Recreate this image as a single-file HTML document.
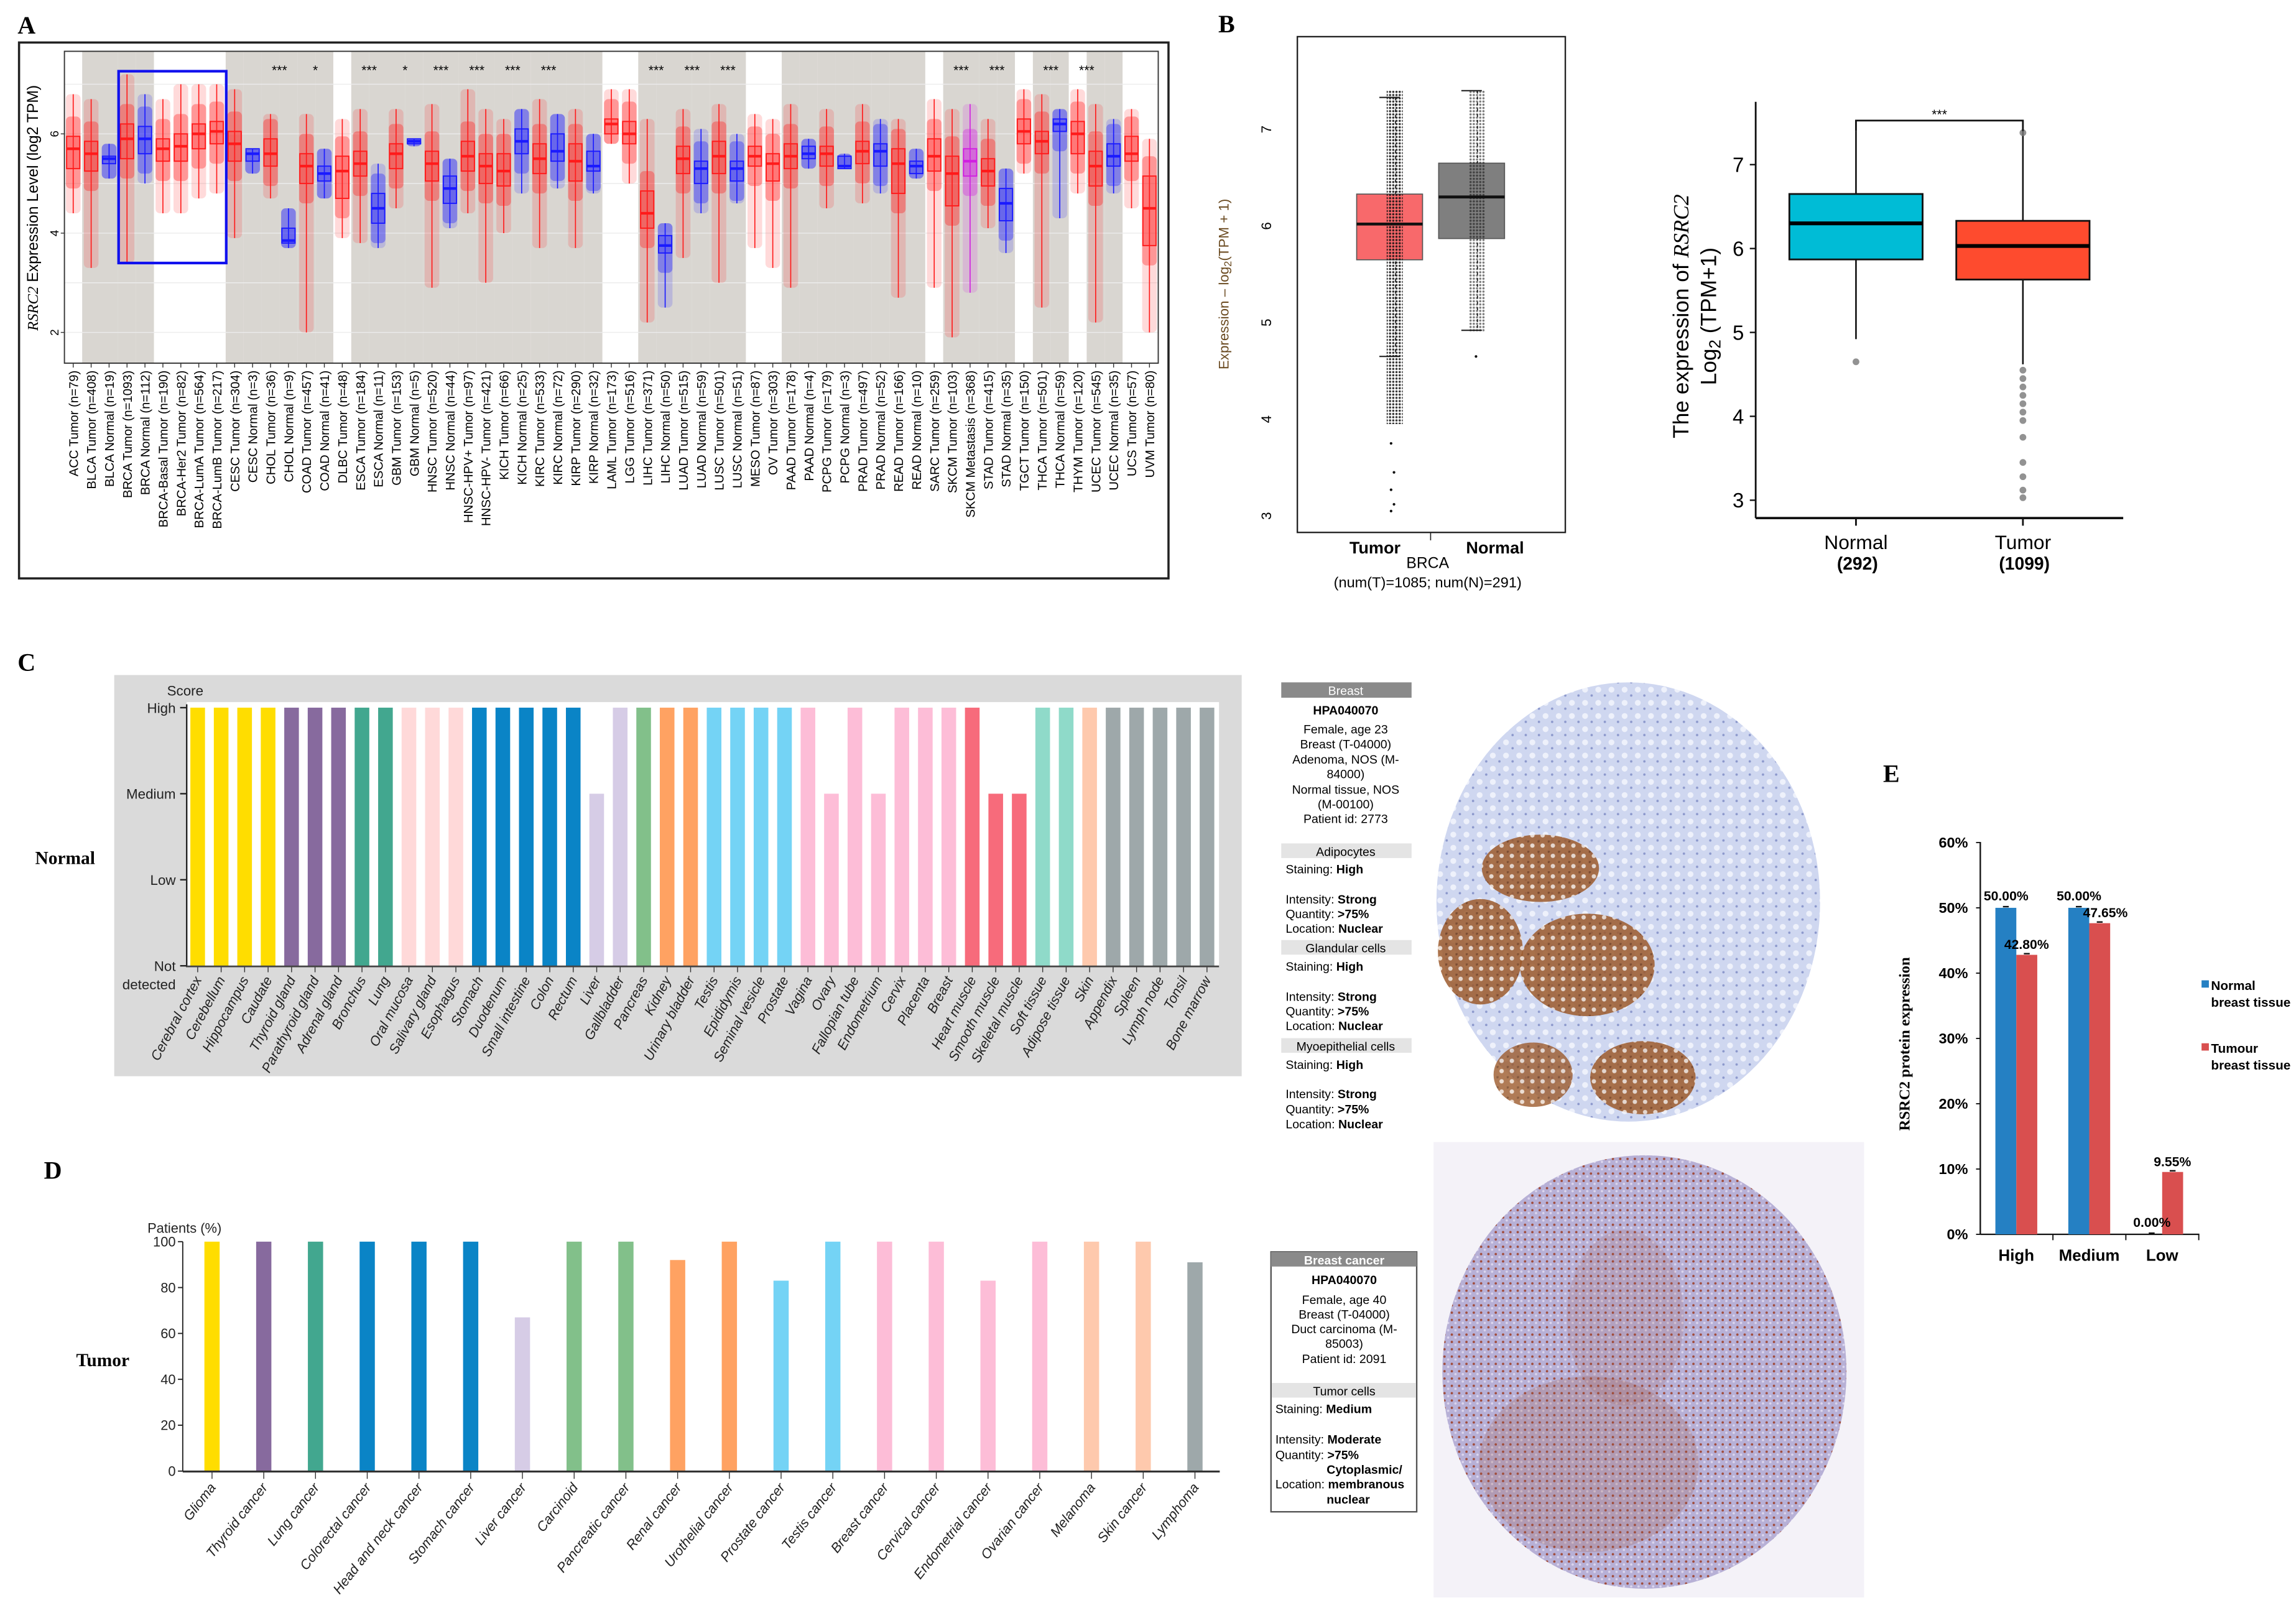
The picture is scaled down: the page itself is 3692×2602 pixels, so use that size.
<!DOCTYPE html>
<html><head><meta charset="utf-8">
<style>
html,body{margin:0;padding:0;background:#fff;}
svg{display:block;}
text{font-family:"Liberation Sans",sans-serif;}
.serif{font-family:"Liberation Serif",serif;}
</style></head>
<body>
<svg id="fig" xmlns="http://www.w3.org/2000/svg" width="3692" height="2602" viewBox="0 0 1568 1105">
<defs>
<pattern id="dotsT" width="2.2" height="2.2" patternUnits="userSpaceOnUse"><circle cx="1.1" cy="1.1" r="0.75" fill="#111"/></pattern>
<pattern id="gland" width="7" height="7" patternUnits="userSpaceOnUse"><rect width="7" height="7" fill="#9c5a2c"/><circle cx="3.5" cy="3.5" r="1.5" fill="#e8d6c8"/><circle cx="0.5" cy="0.5" r="1" fill="#6e3612"/></pattern>
<pattern id="stroma" width="9" height="9" patternUnits="userSpaceOnUse"><rect width="9" height="9" fill="#cfd7f0"/><circle cx="2.5" cy="3" r="2" fill="#eef1fb"/><circle cx="7" cy="7" r="0.8" fill="#8c98cc"/></pattern>
<pattern id="tumor" width="5" height="5" patternUnits="userSpaceOnUse"><rect width="5" height="5" fill="#b7b0d6"/><circle cx="1.5" cy="1.5" r="0.8" fill="#a04c3c"/><circle cx="4" cy="3.5" r="0.8" fill="#dcd6ee"/></pattern>
</defs>

<text x="12" y="23" class="serif" font-size="17" font-weight="bold">A</text>
<rect x="13" y="29" width="785" height="366" fill="none" stroke="#222" stroke-width="1.5"/>
<g id="gA"></g>
<text transform="translate(26,142) rotate(-90)" text-anchor="middle" font-size="10.5"><tspan font-style="italic" font-family="Liberation Serif,serif">RSRC2</tspan> Expression Level (log2 TPM)</text>

<text x="832" y="22" class="serif" font-size="17" font-weight="bold">B</text>
<g id="gB1"></g>
<g id="gB2"></g>
<text transform="translate(839,194) rotate(-90)" text-anchor="middle" font-size="9.5" fill="#6a4a20">Expression – log<tspan font-size="7" dy="2">2</tspan><tspan dy="-2">(TPM + 1)</tspan></text>
<text transform="translate(1153,216) rotate(-90)" text-anchor="middle" font-size="15">The expression of <tspan font-style="italic" font-family="Liberation Serif,serif">RSRC2</tspan></text>
<text transform="translate(1172,216) rotate(-90)" text-anchor="middle" font-size="15">Log<tspan font-size="11" dy="3">2</tspan><tspan dy="-3"> (TPM+1)</tspan></text>

<text x="12" y="458" class="serif" font-size="17" font-weight="bold">C</text>
<rect x="78" y="461" width="770" height="274" fill="#dadada"/>
<text x="24" y="590" class="serif" font-size="12.5" font-weight="bold">Normal</text>
<g id="gC"></g>

<g id="infoN" font-size="8.3" text-anchor="middle">
<rect x="875" y="466" width="89" height="10.5" fill="#8a8a8a"/>
<text x="919" y="474.5" fill="#fff">Breast</text>
<text x="919" y="488" font-weight="bold">HPA040070</text>
<text x="919" y="501">Female, age 23</text>
<text x="919" y="511">Breast (T-04000)</text>
<text x="919" y="521.5">Adenoma, NOS (M-</text>
<text x="919" y="531.5">84000)</text>
<text x="919" y="542">Normal tissue, NOS</text>
<text x="919" y="552">(M-00100)</text>
<text x="919" y="562">Patient id: 2773</text>
<rect x="875" y="576" width="89" height="10" fill="#e4e4e4"/>
<text x="919" y="584.5">Adipocytes</text>
<rect x="875" y="642" width="89" height="10" fill="#e4e4e4"/>
<text x="919" y="650.5">Glandular cells</text>
<rect x="875" y="709" width="89" height="10" fill="#e4e4e4"/>
<text x="919" y="717.5">Myoepithelial cells</text>
</g>
<g font-size="8.3">
<text x="878" y="596.5">Staining: <tspan font-weight="bold">High</tspan></text>
<text x="878" y="617">Intensity: <tspan font-weight="bold">Strong</tspan></text>
<text x="878" y="627">Quantity: <tspan font-weight="bold">&gt;75%</tspan></text>
<text x="878" y="637">Location: <tspan font-weight="bold">Nuclear</tspan></text>
<text x="878" y="663">Staining: <tspan font-weight="bold">High</tspan></text>
<text x="878" y="683.5">Intensity: <tspan font-weight="bold">Strong</tspan></text>
<text x="878" y="693.5">Quantity: <tspan font-weight="bold">&gt;75%</tspan></text>
<text x="878" y="703.5">Location: <tspan font-weight="bold">Nuclear</tspan></text>
<text x="878" y="730">Staining: <tspan font-weight="bold">High</tspan></text>
<text x="878" y="750">Intensity: <tspan font-weight="bold">Strong</tspan></text>
<text x="878" y="760.5">Quantity: <tspan font-weight="bold">&gt;75%</tspan></text>
<text x="878" y="770.5">Location: <tspan font-weight="bold">Nuclear</tspan></text>
</g>

<g>
<ellipse cx="1112" cy="616" rx="131" ry="150" fill="url(#stroma)"/>
<ellipse cx="1052" cy="593" rx="40" ry="23" fill="url(#gland)" opacity="0.85"/>
<ellipse cx="1011" cy="650" rx="29" ry="36" fill="url(#gland)" opacity="0.85"/>
<ellipse cx="1084" cy="659" rx="46" ry="35" fill="url(#gland)" opacity="0.85"/>
<ellipse cx="1047" cy="734" rx="27" ry="22" fill="url(#gland)" opacity="0.8"/>
<ellipse cx="1122" cy="736" rx="36" ry="25" fill="url(#gland)" opacity="0.85"/>
</g>

<text x="30" y="805" class="serif" font-size="17" font-weight="bold">D</text>
<text x="52" y="933" class="serif" font-size="12.5" font-weight="bold">Tumor</text>
<g id="gD"></g>

<g font-size="8.3">
<rect x="868" y="855" width="99.5" height="177.5" fill="#fff" stroke="#555" stroke-width="1"/>
<rect x="868" y="855" width="99.5" height="10" fill="#8a8a8a"/>
<g text-anchor="middle">
<text x="918" y="863.5" fill="#fff" font-weight="bold">Breast cancer</text>
<text x="918" y="877" font-weight="bold">HPA040070</text>
<text x="918" y="890.5">Female, age 40</text>
<text x="918" y="900.5">Breast (T-04000)</text>
<text x="918" y="910.5">Duct carcinoma (M-</text>
<text x="918" y="920.5">85003)</text>
<text x="918" y="931">Patient id: 2091</text>
</g>
<rect x="868.5" y="944.5" width="98.5" height="10" fill="#e4e4e4"/>
<text x="918" y="953" text-anchor="middle">Tumor cells</text>
<text x="871" y="965">Staining: <tspan font-weight="bold">Medium</tspan></text>
<text x="871" y="986">Intensity: <tspan font-weight="bold">Moderate</tspan></text>
<text x="871" y="996.5">Quantity: <tspan font-weight="bold">&gt;75%</tspan></text>
<text x="906" y="1006.5" font-weight="bold">Cytoplasmic/</text>
<text x="871" y="1016.5">Location: <tspan font-weight="bold">membranous</tspan></text>
<text x="906" y="1027" font-weight="bold">nuclear</text>
</g>

<g>
<rect x="979" y="780" width="294" height="311" fill="#f4f2f8"/>
<ellipse cx="1123" cy="937" rx="138" ry="148" fill="url(#tumor)"/>
<ellipse cx="1085" cy="1000" rx="75" ry="60" fill="#a0503a" opacity="0.22"/>
<ellipse cx="1110" cy="900" rx="40" ry="60" fill="#a0503a" opacity="0.15"/>
</g>

<text x="1286" y="534" class="serif" font-size="17" font-weight="bold">E</text>
<g id="gE"></g>
<text transform="translate(1304,713) rotate(-90)" text-anchor="middle" class="serif" font-size="10.5" font-weight="bold">RSRC2 protein expression</text>
<g class="serif" font-size="8.8" font-weight="bold">
<rect x="1503.5" y="669.5" width="5" height="5" fill="#2580c3"/>
<text x="1510" y="676">Normal</text>
<text x="1510" y="687.5">breast tissue</text>
<rect x="1503.5" y="712.5" width="5" height="5" fill="#d94f4f"/>
<text x="1510" y="719">Tumour</text>
<text x="1510" y="730.5">breast tissue</text>
</g>

<script>
const aNames=["ACC Tumor (n=79)","BLCA Tumor (n=408)","BLCA Normal (n=19)","BRCA Tumor (n=1093)","BRCA Normal (n=112)","BRCA-Basal Tumor (n=190)","BRCA-Her2 Tumor (n=82)","BRCA-LumA Tumor (n=564)","BRCA-LumB Tumor (n=217)","CESC Tumor (n=304)","CESC Normal (n=3)","CHOL Tumor (n=36)","CHOL Normal (n=9)","COAD Tumor (n=457)","COAD Normal (n=41)","DLBC Tumor (n=48)","ESCA Tumor (n=184)","ESCA Normal (n=11)","GBM Tumor (n=153)","GBM Normal (n=5)","HNSC Tumor (n=520)","HNSC Normal (n=44)","HNSC-HPV+ Tumor (n=97)","HNSC-HPV- Tumor (n=421)","KICH Tumor (n=66)","KICH Normal (n=25)","KIRC Tumor (n=533)","KIRC Normal (n=72)","KIRP Tumor (n=290)","KIRP Normal (n=32)","LAML Tumor (n=173)","LGG Tumor (n=516)","LIHC Tumor (n=371)","LIHC Normal (n=50)","LUAD Tumor (n=515)","LUAD Normal (n=59)","LUSC Tumor (n=501)","LUSC Normal (n=51)","MESO Tumor (n=87)","OV Tumor (n=303)","PAAD Tumor (n=178)","PAAD Normal (n=4)","PCPG Tumor (n=179)","PCPG Normal (n=3)","PRAD Tumor (n=497)","PRAD Normal (n=52)","READ Tumor (n=166)","READ Normal (n=10)","SARC Tumor (n=259)","SKCM Tumor (n=103)","SKCM Metastasis (n=368)","STAD Tumor (n=415)","STAD Normal (n=35)","TGCT Tumor (n=150)","THCA Tumor (n=501)","THCA Normal (n=59)","THYM Tumor (n=120)","UCEC Tumor (n=545)","UCEC Normal (n=35)","UCS Tumor (n=57)","UVM Tumor (n=80)"];
const aType="TTNTNTTTTTNTNTNTTNTNTNTTTNTNTNTTTNTNTNTTTNTNTNTNTTMTNTTNTTNTT";
const aShade=[0,1,1,1,1,0,0,0,0,1,1,1,1,1,1,0,1,1,1,1,1,1,1,1,1,1,1,1,1,1,0,0,1,1,1,1,1,1,0,0,1,1,1,1,1,1,1,1,0,1,1,1,1,0,1,1,0,1,1,0,0];
const aMed=[5.7,5.6,5.5,5.9,5.9,5.7,5.75,6.0,6.05,5.8,5.6,5.6,3.85,5.35,5.2,5.25,5.4,4.5,5.6,5.85,5.4,4.9,5.55,5.35,5.25,5.85,5.5,5.65,5.45,5.35,6.2,6.0,4.4,3.75,5.5,5.3,5.55,5.3,5.55,5.4,5.55,5.6,5.6,5.35,5.65,5.65,5.4,5.35,5.55,5.2,5.45,5.25,4.6,6.05,5.85,6.2,6.0,5.35,5.55,5.6,4.5];
const aQ1=[5.3,5.25,5.4,5.5,5.6,5.45,5.45,5.7,5.8,5.45,5.45,5.35,3.8,5.0,5.05,4.7,5.15,4.2,5.3,5.8,5.05,4.6,5.25,5.0,4.95,5.6,5.2,5.45,5.05,5.25,6.0,5.8,4.1,3.6,5.2,5.0,5.2,5.05,5.35,5.05,5.3,5.5,5.35,5.3,5.4,5.35,4.8,5.2,5.25,4.55,5.15,4.95,4.25,5.8,5.6,6.05,5.6,4.95,5.35,5.45,3.75];
const aQ3=[5.95,5.85,5.55,6.2,6.15,5.9,6.0,6.2,6.25,6.05,5.7,5.9,4.1,5.6,5.35,5.55,5.65,4.8,5.8,5.9,5.65,5.15,5.85,5.6,5.6,6.1,5.8,6.0,5.8,5.65,6.3,6.25,4.85,3.95,5.75,5.45,5.85,5.45,5.75,5.6,5.8,5.75,5.75,5.55,5.85,5.8,5.7,5.45,5.9,5.55,5.7,5.5,4.9,6.3,6.05,6.3,6.25,5.65,5.8,5.95,5.15];
const aLo=[4.4,3.3,5.1,3.4,5.0,4.4,4.4,4.7,4.8,3.9,5.2,4.7,3.7,2.0,4.7,3.9,3.8,3.7,4.5,5.75,2.9,4.1,4.4,3.0,4.0,4.8,3.7,4.9,3.7,4.8,5.8,5.0,2.2,2.5,3.5,4.4,3.0,4.6,3.7,3.3,2.9,5.3,4.5,5.3,4.6,4.8,2.7,5.1,2.9,1.9,2.8,4.1,3.6,5.2,2.5,4.3,4.8,2.2,4.8,4.5,2.0];
const aHi=[6.8,6.7,5.8,7.2,6.8,6.7,7.0,7.0,7.0,6.9,5.7,6.4,4.5,6.4,5.7,6.3,6.5,5.4,6.5,5.9,6.6,5.5,6.9,6.5,6.3,6.5,6.7,6.4,6.5,6.0,6.9,6.9,6.3,4.2,6.5,6.1,6.6,6.0,6.4,6.3,6.6,5.9,6.5,5.6,6.6,6.3,6.3,5.7,6.7,6.5,6.6,6.3,5.3,6.9,6.8,6.5,6.9,6.6,6.3,6.5,5.9];
const aStarPos=[11.5,13.5,16.5,18.5,20.5,22.5,24.5,26.5,32.5,34.5,36.5,49.5,51.5,54.5,56.5];
const aStarTxt=["***","*","***","*","***","***","***","***","***","***","***","***","***","***","***"];
const aTicks=[2,4,6];
const b1Groups=["Tumor","Normal"];
const b1Q1=[5.65,5.87],b1Med=[6.02,6.3],b1Q3=[6.33,6.65],b1Lo=[4.65,4.92],b1Hi=[7.33,7.4];
const b1DotLo=[3.95,4.9],b1DotHi=[7.4,7.4];
const b1Outliers=[3.75,3.45,3.27,3.12,3.05,4.65];
const b1OutGroup=[0,0,0,0,0,1];
const b1Ticks=[3,4,5,6,7];
const b2Groups=["Normal","Tumor"],b2N=["(292)","(1099)"];
const b2Q1=[5.87,5.63],b2Med=[6.3,6.03],b2Q3=[6.65,6.33],b2Lo=[4.92,4.62],b2Hi=[7.4,7.4];
const b2Outliers=[4.65,7.38,4.55,4.45,4.35,4.25,4.15,4.05,3.95,3.75,3.45,3.28,3.12,3.03];
const b2OutGroup=[0,1,1,1,1,1,1,1,1,1,1,1,1,1];
const b2Ticks=[3,4,5,6,7];
const cTissues=["Cerebral cortex","Cerebellum","Hippocampus","Caudate","Thyroid gland","Parathyroid gland","Adrenal gland","Bronchus","Lung","Oral mucosa","Salivary gland","Esophagus","Stomach","Duodenum","Small intestine","Colon","Rectum","Liver","Gallbladder","Pancreas","Kidney","Urinary bladder","Testis","Epididymis","Seminal vesicle","Prostate","Vagina","Ovary","Fallopian tube","Endometrium","Cervix","Placenta","Breast","Heart muscle","Smooth muscle","Skeletal muscle","Soft tissue","Adipose tissue","Skin","Appendix","Spleen","Lymph node","Tonsil","Bone marrow"];
const cLevel=[3,3,3,3,3,3,3,3,3,3,3,3,3,3,3,3,3,2,3,3,3,3,3,3,3,3,3,2,3,2,3,3,3,3,2,2,3,3,3,3,3,3,3,3];
const cGroup=["Y","Y","Y","Y","P","P","P","T","T","LP","LP","LP","B","B","B","B","B","LV","LV","G","O","O","LB","LB","LB","LB","PK","PK","PK","PK","PK","PK","PK","R","R","R","M","M","PE","GR","GR","GR","GR","GR"];
const cLevels=["Not\ndetected","Low","Medium","High"];
const dCancers=["Glioma","Thyroid cancer","Lung cancer","Colorectal cancer","Head and neck cancer","Stomach cancer","Liver cancer","Carcinoid","Pancreatic cancer","Renal cancer","Urothelial cancer","Prostate cancer","Testis cancer","Breast cancer","Cervical cancer","Endometrial cancer","Ovarian cancer","Melanoma","Skin cancer","Lymphoma"];
const dValues=[100,100,100,100,100,100,67,100,100,92,100,83,100,100,100,83,100,100,100,91];
const dGroup=["Y","P","T","B","B","B","LV","G","G","O","O","LB","LB","PK","PK","PK","PK","PE","PE","GR"];
const dTicks=[0,20,40,60,80,100];
const eCats=["High","Medium","Low"];
const eNormal=[50.00,50.00,0.00];
const eTumour=[42.80,47.65,9.55];
const eTicks=[0,10,20,30,40,50,60];

const PAL={Y:"#ffdd00",P:"#876a9e",T:"#42a78f",LP:"#ffd9d9",B:"#0a84c6",LV:"#d6cce6",G:"#82c08a",O:"#ffa262",LB:"#74d3f5",PK:"#fdbdd7",R:"#f76b7b",M:"#8fdac9",PE:"#fec9ad",GR:"#9ea8aa"};
const NS="http://www.w3.org/2000/svg";
function mk(tag,parent,at){const e=document.createElementNS(NS,tag);for(const k in at)e.setAttribute(k,at[k]);parent.appendChild(e);return e;}

(function(){
const g=document.getElementById('gA');
const x0=44,x1=791,y0=35,y1=248;
const xA=i=>50+12.25*i;
const yA=v=>91.4-(v-6)*33.9;
let e=mk('rect',g,{x:x0,y:y0,width:x1-x0,height:y1-y0,fill:'#fff'});


aShade.forEach((s,i)=>{ if(!s) return;
  const r=mk('rect',g,{x:xA(i)-6.13,y:y0,width:12.26,height:y1-y0,fill:'#d9d6d1'});
  
  
});
for(let v=2;v<=7;v++){
  const l=mk('line',g,{x1:x0,x2:x1,y1:yA(v),y2:yA(v),stroke:'#ececec','stroke-width':0.6});
  
  
}
const col=t=>t==='T'?'#ff1a1a':(t==='N'?'#1a1aff':'#d020e0');
aMed.forEach((m,i)=>{
  const c=col(aType[i]),x=xA(i);
  const cl=mk('rect',g,{x:x-5,y:yA(aHi[i]),width:10,height:yA(aLo[i])-yA(aHi[i]),fill:c,opacity:0.16,rx:3});
  
  
  const cd=mk('rect',g,{x:x-5,y:yA(Math.min(aHi[i],aQ3[i]+0.4)),width:10,height:yA(Math.max(aLo[i],aQ1[i]-0.4))-yA(Math.min(aHi[i],aQ3[i]+0.4)),fill:c,opacity:0.35,rx:3});
  
  
  const w=mk('line',g,{x1:x,x2:x,y1:yA(aHi[i]),y2:yA(aLo[i]),stroke:c,'stroke-width':0.7});
  
  
  const b=mk('rect',g,{x:x-4.5,y:yA(aQ3[i]),width:9,height:yA(aQ1[i])-yA(aQ3[i]),fill:c,'fill-opacity':0.25,stroke:c,'stroke-width':0.8});
  
  
  const md=mk('line',g,{x1:x-4.5,x2:x+4.5,y1:yA(m),y2:yA(m),stroke:c,'stroke-width':1.8});
  
  
  const t=mk('text',g,{transform:`translate(${x+3.2},253) rotate(-90)`,'text-anchor':'end','font-size':8.6});
  t.textContent=aNames[i];
  
  
  const tk=mk('line',g,{x1:x,x2:x,y1:y1,y2:y1+3,stroke:'#333','stroke-width':0.6});
  
  
});
aStarPos.forEach((p,k)=>{
  const t=mk('text',g,{x:xA(p),y:51,'text-anchor':'middle','font-size':9});
  t.textContent=aStarTxt[k];
  
  
});
e=mk('rect',g,{x:x0,y:y0,width:x1-x0,height:y1-y0,fill:'none',stroke:'#333','stroke-width':0.8});


aTicks.forEach(v=>{
  const t=mk('text',g,{transform:`translate(${40},${yA(v)}) rotate(-90)`,'text-anchor':'middle','font-size':8});
  t.textContent=v;
  
  
  const l=mk('line',g,{x1:x0-2.5,x2:x0,y1:yA(v),y2:yA(v),stroke:'#333','stroke-width':0.6});
  
  
});
const hb=mk('rect',g,{x:81,y:48.6,width:73.5,height:131,fill:'none',stroke:'#1010ee','stroke-width':1.8});


})();

(function(){
const g=document.getElementById('gB1');
const yB=v=>88.3+(7-v)*66;
const xc=[949,1005];
const cols=['#f8696b','#7f7f7f'];
let f=mk('rect',g,{x:886,y:25,width:183,height:338.6,fill:'none',stroke:'#222','stroke-width':1});


b1Ticks.forEach(v=>{
  const t=mk('text',g,{transform:`translate(868,${yB(v)}) rotate(-90)`,'text-anchor':'middle','font-size':9.5});
  t.textContent=v;
  
  
});
b1Groups.forEach((n,i)=>{
  const x=xc[i];
  const w=mk('line',g,{x1:x+4,x2:x+4,y1:yB(b1Hi[i]),y2:yB(b1Lo[i]),stroke:'#222','stroke-width':0.7,'stroke-dasharray':'2,2'});
  
  
  [b1Hi[i],b1Lo[i]].forEach(v=>{
    const c=mk('line',g,{x1:x-7,x2:x+7,y1:yB(v),y2:yB(v),stroke:'#222','stroke-width':0.9});
    
    
  });
  const b=mk('rect',g,{x:x-22.5,y:yB(b1Q3[i]),width:45,height:yB(b1Q1[i])-yB(b1Q3[i]),fill:cols[i],stroke:'#555','stroke-width':0.7});
  
  
  const d=mk('rect',g,{x:x-2,y:yB(b1DotHi[i]),width:11,height:yB(b1DotLo[i])-yB(b1DotHi[i]),fill:'url(#dotsT)',opacity:i===0?0.85:0.55});
  
  
  const m=mk('line',g,{x1:x-22.5,x2:x+22.5,y1:yB(b1Med[i]),y2:yB(b1Med[i]),stroke:'#111','stroke-width':2});
  
  
  const t=mk('text',g,{x:x-(i?-16:10),y:378,'text-anchor':'middle','font-size':11.5,'font-weight':'bold','font-family':'Liberation Serif,serif'});
  t.textContent=n;
  
  
});
b1Outliers.forEach((v,k)=>{
  const c=mk('circle',g,{cx:xc[b1OutGroup[k]]+(k%2?3:1),cy:yB(v),r:0.9,fill:'#111'});
  
  
});
let tk=mk('line',g,{x1:977,x2:977,y1:363.6,y2:369,stroke:'#222','stroke-width':0.7});


let t=mk('text',g,{x:975,y:388,'text-anchor':'middle','font-size':10.5});
t.textContent='BRCA';


t=mk('text',g,{x:975,y:401,'text-anchor':'middle','font-size':10});
t.textContent='(num(T)=1085; num(N)=291)';


})();

(function(){
const g=document.getElementById('gB2');
const yB=v=>112.4+(7-v)*57.3;
const xc=[1267.5,1381.5];
const cols=['#00bcd6','#fe4b2e'];
let a=mk('line',g,{x1:1199,x2:1199,y1:69.5,y2:353.8,stroke:'#111','stroke-width':1.2});


a=mk('line',g,{x1:1199,x2:1450,y1:353.8,y2:353.8,stroke:'#111','stroke-width':1.6});


b2Ticks.forEach(v=>{
  const l=mk('line',g,{x1:1195,x2:1199,y1:yB(v),y2:yB(v),stroke:'#111','stroke-width':1});
  
  
  const t=mk('text',g,{x:1191,y:yB(v)+5,'text-anchor':'end','font-size':14});
  t.textContent=v;
  
  
});
b2Groups.forEach((n,i)=>{
  const x=xc[i];
  const w=mk('line',g,{x1:x,x2:x,y1:yB(b2Hi[i]),y2:yB(b2Lo[i]),stroke:'#111','stroke-width':1.1});
  
  
  const b=mk('rect',g,{x:x-45.5,y:yB(b2Q3[i]),width:91,height:yB(b2Q1[i])-yB(b2Q3[i]),fill:cols[i],stroke:'#111','stroke-width':1.2});
  
  
  const m=mk('line',g,{x1:x-45.5,x2:x+45.5,y1:yB(b2Med[i]),y2:yB(b2Med[i]),stroke:'#000','stroke-width':2.6});
  
  
  const tk=mk('line',g,{x1:x,x2:x,y1:353.8,y2:359,stroke:'#111','stroke-width':1.2});
  
  
  const t=mk('text',g,{x:x,y:375,'text-anchor':'middle','font-size':13.5});
  t.textContent=n;
  
  
  const t2=mk('text',g,{x:x+1,y:389,'text-anchor':'middle','font-size':12,'font-weight':'bold','font-family':'Liberation Serif,serif'});
  t2.textContent=b2N[i];
  
  
});
b2Outliers.forEach((v,k)=>{
  const c=mk('circle',g,{cx:xc[b2OutGroup[k]],cy:yB(v),r:2.3,fill:'#777',opacity:0.8});
  
  
});
const br=mk('path',g,{d:`M${xc[0]},${yB(b2Hi[0])} V82.3 H${xc[1]} V${yB(b2Hi[1])}`,fill:'none',stroke:'#111','stroke-width':1.2});


const st=mk('text',g,{x:1324.5,y:81,'text-anchor':'middle','font-size':9});
st.textContent='***';


})();

(function(){
const g=document.getElementById('gC');
const xC=i=>135+16.03*i;
const yC=l=>659.6-l*58.77;
let p=mk('rect',g,{x:127.5,y:479.5,width:705,height:180.5,fill:'#fff'});


cTissues.forEach((n,i)=>{
  const b=mk('rect',g,{x:xC(i)-5,y:yC(cLevel[i]),width:10,height:yC(0)-yC(cLevel[i]),fill:PAL[cGroup[i]]});
  
  
  const tk=mk('line',g,{x1:xC(i),x2:xC(i),y1:660,y2:664,stroke:'#333','stroke-width':0.6});
  
  
  const t=mk('text',g,{transform:`translate(${xC(i)+3},669) rotate(-62)`,'text-anchor':'end','font-size':9.3,'font-style':'italic',fill:'#222'});
  t.textContent=n;
  
  
});
let a=mk('line',g,{x1:127.5,x2:127.5,y1:481,y2:660,stroke:'#222','stroke-width':1});


a=mk('line',g,{x1:127,x2:832.5,y1:660,y2:660,stroke:'#444','stroke-width':1.2});


cLevels.forEach((n,l)=>{
  const tk=mk('line',g,{x1:123,x2:127.5,y1:yC(l),y2:yC(l),stroke:'#222','stroke-width':1});
  
  
  const parts=n.split('\n');
  const t=mk('text',g,{x:120,y:yC(l)+3.5,'text-anchor':'end','font-size':9.5,fill:'#222'});
  t.textContent=parts[0];
  
  
  if(parts[1]){const t2=mk('text',g,{x:120,y:yC(l)+16,'text-anchor':'end','font-size':9.5,fill:'#222'});
    t2.textContent=parts[1];
    
    }
});
const s=mk('text',g,{x:126.5,y:475,'text-anchor':'middle','font-size':9.5,fill:'#222'});
s.textContent='Score';


})();

(function(){
const g=document.getElementById('gD');
const xD=i=>144.8+35.33*i;
const yD=v=>1004.7-v*1.567;
dCancers.forEach((n,i)=>{
  const b=mk('rect',g,{x:xD(i)-5.2,y:yD(dValues[i]),width:10.4,height:yD(0)-yD(dValues[i]),fill:PAL[dGroup[i]]});
  
  
  const tk=mk('line',g,{x1:xD(i),x2:xD(i),y1:1005,y2:1010,stroke:'#333','stroke-width':0.6});
  
  
  const t=mk('text',g,{transform:`translate(${xD(i)+3},1016) rotate(-52)`,'text-anchor':'end','font-size':9.3,'font-style':'italic',fill:'#222'});
  t.textContent=n;
  
  
});
let a=mk('line',g,{x1:124.8,x2:833,y1:1005,y2:1005,stroke:'#333','stroke-width':1.3});


a=mk('line',g,{x1:124.8,x2:124.8,y1:848,y2:1005,stroke:'#222','stroke-width':0.8});


dTicks.forEach(v=>{
  const tk=mk('line',g,{x1:121.5,x2:124.8,y1:yD(v),y2:yD(v),stroke:'#222','stroke-width':0.8});
  
  
  const t=mk('text',g,{x:120,y:yD(v)+3.3,'text-anchor':'end','font-size':9.3,fill:'#222'});
  t.textContent=v;
  
  
});
const s=mk('text',g,{x:126,y:842,'text-anchor':'middle','font-size':9.3,fill:'#222'});
s.textContent='Patients (%)';


})();

(function(){
const g=document.getElementById('gE');
const yE=v=>843-v*4.46;
const xE=i=>1377+49.8*i;
let a=mk('line',g,{x1:1352.4,x2:1352.4,y1:575,y2:843,stroke:'#111','stroke-width':1});


a=mk('line',g,{x1:1352.4,x2:1502,y1:843,y2:843,stroke:'#111','stroke-width':1});


eTicks.forEach(v=>{
  const tk=mk('line',g,{x1:1349.5,x2:1352.4,y1:yE(v),y2:yE(v),stroke:'#111','stroke-width':0.8});
  
  
  const t=mk('text',g,{x:1344,y:yE(v)+3.5,'text-anchor':'end','font-size':10,'font-weight':'bold','font-family':'Liberation Serif,serif'});
  t.textContent=v+'%';
  
  
});
eCats.forEach((n,i)=>{
  const c=xE(i);
  const bn=mk('rect',g,{x:c-14.3,y:yE(eNormal[i]),width:14.3,height:yE(0)-yE(eNormal[i]),fill:'#2580c3'});
  
  
  const bt=mk('rect',g,{x:c,y:yE(eTumour[i]),width:14.3,height:yE(0)-yE(eTumour[i]),fill:'#d94f4f'});
  
  
  [[c-7.15,eNormal[i]],[c+7.15,eTumour[i]]].forEach(([x,v])=>{
    const eb=mk('line',g,{x1:x-2,x2:x+2,y1:yE(v)-0.8,y2:yE(v)-0.8,stroke:'#111','stroke-width':1});
    
    
  });
  const l1=mk('text',g,{x:c-7,y:yE(eNormal[i])-5,'text-anchor':'middle','font-size':9,'font-family':'Liberation Serif,serif','font-weight':'bold'});
  l1.textContent=eNormal[i].toFixed(2)+'%';
  
  
  const l2=mk('text',g,{x:c+(i===1?11:7),y:yE(eTumour[i])-4,'text-anchor':'middle','font-size':9,'font-family':'Liberation Serif,serif','font-weight':'bold'});
  l2.textContent=eTumour[i].toFixed(2)+'%';
  
  
  const tk=mk('line',g,{x1:c+25,x2:c+25,y1:843,y2:847,stroke:'#111','stroke-width':0.8});
  
  
  const t=mk('text',g,{x:c,y:861,'text-anchor':'middle','font-size':11,'font-weight':'bold','font-family':'Liberation Serif,serif'});
  t.textContent=n;
  
  
});
})();
</script>
</svg>
</body></html>
